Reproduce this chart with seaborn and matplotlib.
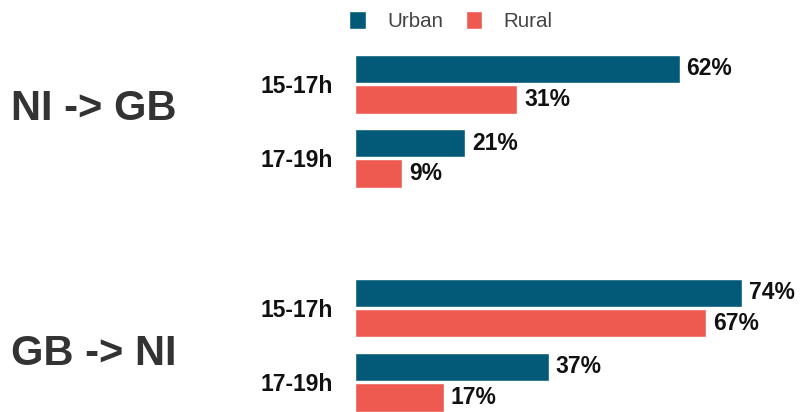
import pandas as pd
import seaborn as sns
from matplotlib import pyplot as plt
from matplotlib import font_manager as fm
from matplotlib.patches import Patch

# data
routes = ['NI -> GB', 'GB -> NI']
slots = ['15-17h', '17-19h']
areas = ['Urban', 'Rural']
urban_share = {'NI -> GB': [62, 21], 'GB -> NI': [74, 37]}
rural_share = {'NI -> GB': [31, 9], 'GB -> NI': [67, 17]}

colors = {'Urban': '#035a78', 'Rural': '#ef5a50'}


def route_frame(route):
    rows = []
    for i, slot in enumerate(slots):
        rows.append({'slot': slot, 'area': 'Urban', 'share': urban_share[route][i]})
        rows.append({'slot': slot, 'area': 'Rural', 'share': rural_share[route][i]})
    return pd.DataFrame(rows)


def font_file(name, weight):
    # pick the normal-width Liberation Sans file, not the Narrow one
    for f in fm.fontManager.ttflist:
        if f.fname.endswith(name):
            return fm.FontProperties(fname=f.fname)
    return fm.FontProperties(family='Liberation Sans', weight=weight)


sns.set_style('white')
plt.rcParams['font.family'] = ['Liberation Sans', 'DejaVu Sans']

bold = font_file('LiberationSans-Bold.ttf', 'bold')
regular = font_file('LiberationSans-Regular.ttf', 'normal')


def sized(fp, size):
    p = fp.copy()
    p.set_size(size)
    return p


fig = plt.figure(figsize=(8.01, 4.12), dpi=100)

# axes positions in figure fractions (left, bottom, width, height)
positions = [(0.4432, 0.5255, 0.549, 0.3604),
             (0.4432, -0.0176, 0.549, 0.3604)]
title_y = [1 - 109 / 412, 1 - 354 / 412]

for route, pos, ty in zip(routes, positions, title_y):
    ax = fig.add_axes(pos)
    df = route_frame(route)
    sns.barplot(data=df, y='slot', x='share', hue='area', order=slots, hue_order=areas,
                palette=colors, saturation=1, orient='h', width=0.82, gap=0.07,
                legend=False, ax=ax)
    for cont in ax.containers:
        ax.bar_label(cont, fmt='%d%%', padding=5, fontproperties=sized(bold, 16.5), color='#111111')
    ax.set_xlim(0, 84)
    ax.set_ylim(1.5, -0.5)
    ax.set(xlabel='', ylabel='')
    ax.set_xticks([])
    ax.tick_params(axis='y', length=0, pad=16)
    for lab in ax.get_yticklabels():
        lab.set_fontproperties(sized(bold, 16.5))
        lab.set_color('#111111')
    sns.despine(ax=ax, left=True, bottom=True)
    fig.text(11 / 801, ty, route, fontproperties=sized(bold, 30), color='#333333',
             ha='left', va='center')

handles = [Patch(facecolor=colors[a], label=a) for a in areas]
fig.legend(handles=handles, loc='center', bbox_to_anchor=(451 / 801, 1 - 21 / 412), ncol=2,
           frameon=False, prop=sized(regular, 14.8), labelcolor='#444444', handlelength=0.8,
           handleheight=1.0, handletextpad=1.05, columnspacing=1.1, borderpad=0)

fig.savefig('out.png', dpi=100)
